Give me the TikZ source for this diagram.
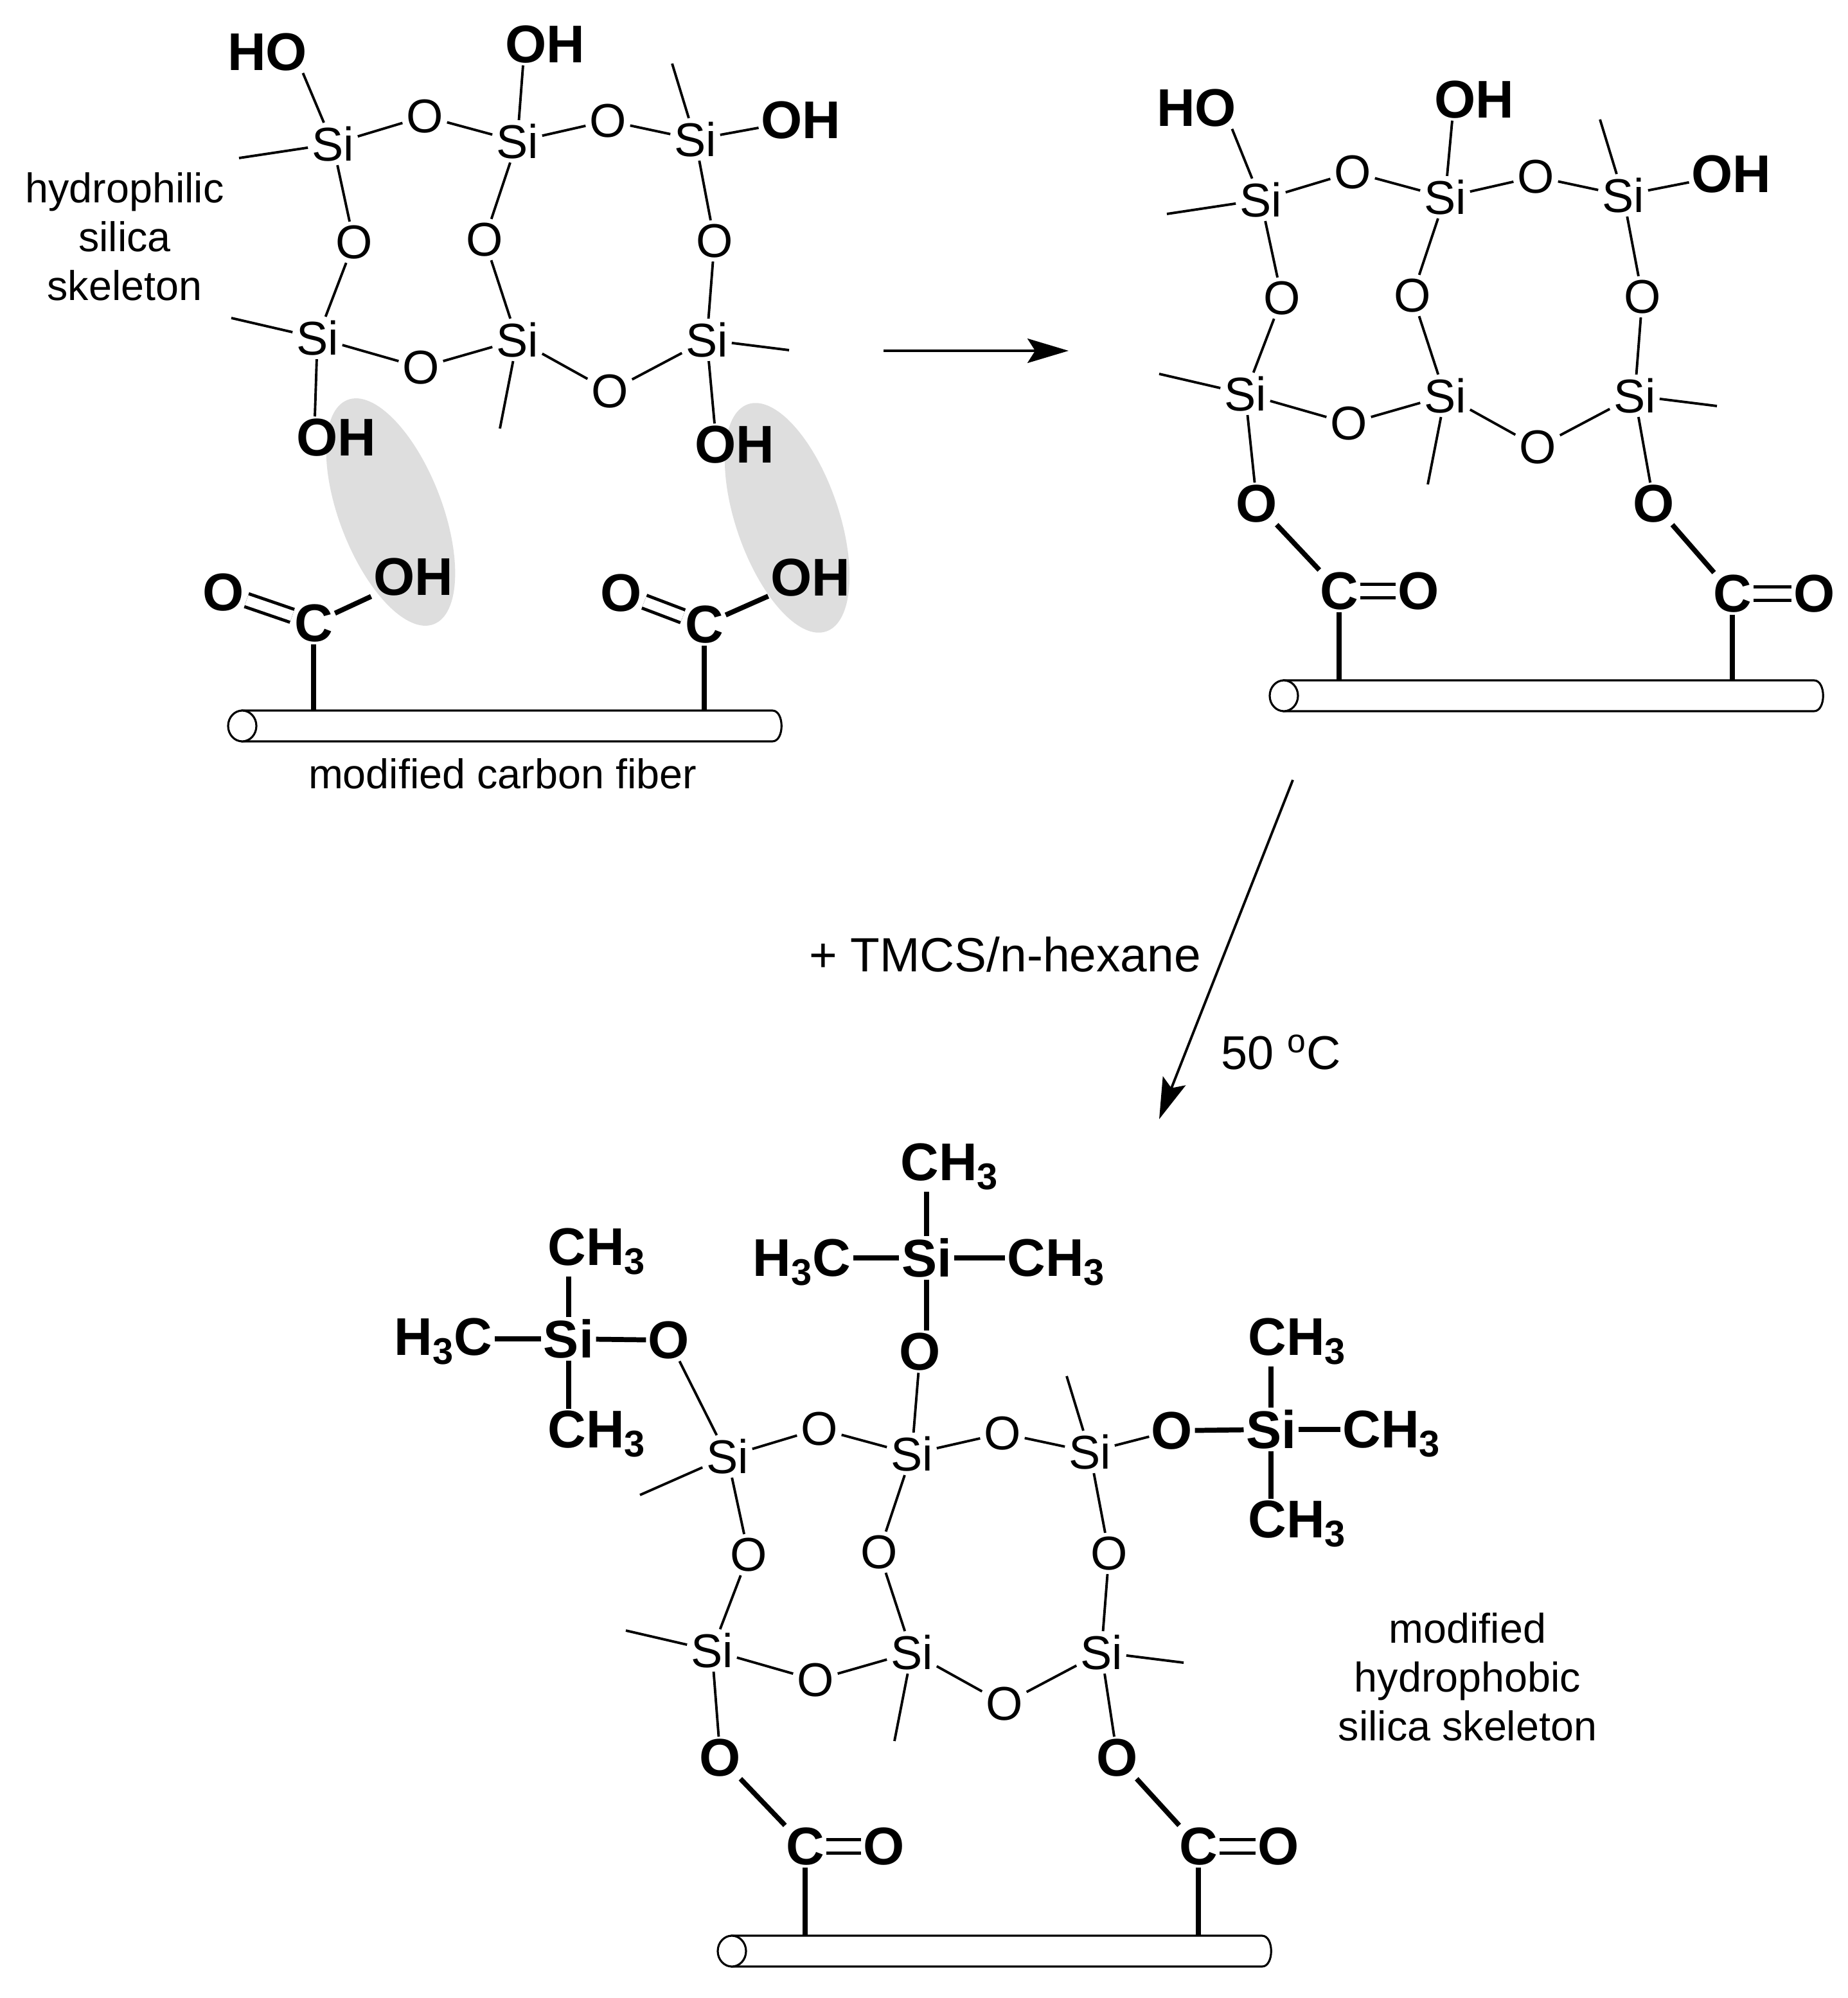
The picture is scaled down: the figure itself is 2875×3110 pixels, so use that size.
\documentclass[tikz,border=0pt]{standalone}
\usepackage{fontspec}
\setmainfont{Liberation Sans}
\usetikzlibrary{shapes.geometric, arrows.meta}

\newcommand{\chemfont}{\fontsize{21}{24}\selectfont}
\newcommand{\boldfont}{\fontsize{23.5}{26}\selectfont\bfseries}
\newcommand{\labelfont}{\fontsize{18.4}{21.6}\selectfont}

\tikzset{
    atom/.style={font=\chemfont, inner sep=1.5pt},
    batom/.style={font=\boldfont, inner sep=0.8pt},
    note/.style={font=\labelfont, align=center, inner sep=0pt},
    bond/.style={line width=1.1pt},
    bbond/.style={line width=2.2pt},
    dbond/.style={line width=1.4pt, double, double distance=4.6pt},
    reaction/.style={line width=1.1pt, -{Stealth[length=6.4mm, width=3.8mm, inset=1.2mm]}},
    patch/.style={ellipse, fill=black!13, minimum width=37.4mm, minimum height=16mm, inner sep=0pt},
    tube/.style={line width=0.9pt, fill=white},
    skeleton/.pic={
        \node[atom] (-s1) at (518,224) {Si};
        \node[atom] (-s2) at (805,220) {Si};
        \node[atom] (-s3) at (1082,217) {Si};
        \node[atom] (-s4) at (494,526) {Si};
        \node[atom] (-s5) at (805,529) {Si};
        \node[atom] (-s6) at (1100,529) {Si};
        \node[atom] (-o12) at (661,181) {O};
        \node[atom] (-o23) at (946,188) {O};
        \node[atom] (-o14) at (551,377) {O};
        \node[atom] (-o25) at (754,373) {O};
        \node[atom] (-o36) at (1112,375) {O};
        \node[atom] (-o45) at (655,572) {O};
        \node[atom] (-o56) at (949,609) {O};
        \coordinate (-e3) at (1046,99);
        \coordinate (-e4) at (360,495);
        \coordinate (-e5) at (778,667);
        \coordinate (-e6) at (1228,545);
        \draw[bond] (-s1) -- (-o12) -- (-s2) -- (-o23) -- (-s3) -- (-o36) -- (-s6) -- (-o56) -- (-s5) -- (-o45) -- (-s4) -- (-o14) -- (-s1);
        \draw[bond] (-s2) -- (-o25) -- (-s5);
        \draw[bond] (-s3) -- (-e3);
        \draw[bond] (-s4) -- (-e4);
        \draw[bond] (-s5) -- (-e5);
        \draw[bond] (-s6) -- (-e6);
    },
    fiber/.pic={
        \draw[tube] (0,-24) -- (825,-24) .. controls (844,-24) and (844,24) .. (825,24) -- (0,24) -- cycle;
        \draw[tube] (0,0) ellipse [x radius=22, y radius=24];
        \coordinate (-top) at (400,-24);
    }
}

\begin{document}
\begin{tikzpicture}[x=0.1mm, y=-0.1mm]
    \useasboundingbox (0,0) rectangle (2875,3110);

    % hydrophilic skeleton over the fiber
    \node[patch, rotate=-69] (pa) at (608,797) {};
    \node[patch, rotate=-71] (pb) at (1225,806) {};
    \pic (a) at (0,0) {skeleton};
    \pic (fa) at (377,1130) {fiber};
    \coordinate (a-e1) at (372,246);
    \node[batom] (a-ho1) at (416,81) {HO};
    \node[batom] (a-oh2) at (848,69) {OH};
    \node[batom] (a-oh3) at (1246,187) {OH};
    \node[batom] (a-oh4) at (523,681) {OH};
    \node[batom] (a-oh6) at (1143,692) {OH};
    \draw[bond] (a-s1) -- (a-e1);
    \draw[bond] (a-s1) -- ([xshift=-1mm]a-ho1.south east);
    \draw[bond] (a-s2) -- ([xshift=-3.4mm]a-oh2.south);
    \draw[bond] (a-s3) -- (a-oh3);
    \draw[bond] (a-s4) -- ([xshift=-3.3mm]a-oh4.north);
    \draw[bond] (a-s6) -- ([xshift=-3.1mm]a-oh6.north);
    \node[batom] (ca) at (488,970) {C};
    \node[batom] (cao) at (348,922) {O};
    \node[batom] (caoh) at (643,898) {OH};
    \node[batom] (cb) at (1096,972) {C};
    \node[batom] (cbo) at (967,923) {O};
    \node[batom] (cboh) at (1261,899) {OH};
    \draw[dbond] (ca) -- (cao);
    \draw[dbond] (cb) -- (cbo);
    \draw[bbond] (ca) -- (caoh);
    \draw[bbond] (cb) -- (cboh);
    \draw[bbond] (ca.south) -- (ca.south |- fa-top);
    \draw[bbond] (cb.south) -- (cb.south |- fa-top);
    \node[note] (lphil) at (194,368) {hydrophilic\\silica\\skeleton};
    \node[note] (lfib) at (782,1204) {modified carbon fiber};

    % first step
    \coordinate (r1a) at (1375,546);
    \coordinate (r1b) at (1663,546);
    \draw[reaction] (r1a) -- (r1b);

    % grafted skeleton
    \pic (b) at (1444,87) {skeleton};
    \pic (fb) at (1998,1083) {fiber};
    \coordinate (b-e1) at (1816,333);
    \node[batom] (b-ho1) at (1862,168) {HO};
    \node[batom] (b-oh2) at (2294,155) {OH};
    \node[batom] (b-oh3) at (2694,271) {OH};
    \node[batom] (b-o4) at (1956,784) {O};
    \node[batom] (b-o6) at (2574,784) {O};
    \node[batom] (cc) at (2084,920) {C};
    \node[batom] (cco) at (2208,920) {O};
    \node[batom] (cd) at (2696,924) {C};
    \node[batom] (cdo) at (2824,924) {O};
    \draw[bond] (b-s1) -- (b-e1);
    \draw[bond] (b-s1) -- ([xshift=-1mm]b-ho1.south east);
    \draw[bond] (b-s2) -- ([xshift=-3.4mm]b-oh2.south);
    \draw[bond] (b-s3) -- (b-oh3);
    \draw[bond] (b-s4) -- (b-o4);
    \draw[bond] (b-s6) -- (b-o6);
    \draw[bbond] (b-o4) -- (cc);
    \draw[bbond] (b-o6) -- (cd);
    \draw[dbond] (cc) -- (cco);
    \draw[dbond] (cd) -- (cdo);
    \draw[bbond] (cc.south) -- (cc.south |- fb-top);
    \draw[bbond] (cd.south) -- (cd.south |- fb-top);

    % second step
    \coordinate (r2a) at (2012,1214);
    \coordinate (r2b) at (1804,1742);
    \draw[reaction] (r2a) -- (r2b);
    \node[note, font=\fontsize{21.3}{24}\selectfont] (lreag) at (1564,1486) {+ TMCS/n-hexane};
    \node[note, font=\fontsize{21}{24}\selectfont] (ltemp) at (1994,1638) {50 \textsuperscript{o}C};

    % hydrophobic skeleton
    \pic (c) at (614,2043) {skeleton};
    \pic (fc) at (1139,3037) {fiber};
    \coordinate (c-e1) at (996,2327);
    \node[batom] (c-o1) at (1041,2086) {O};
    \node[batom] (c-o2) at (1432,2104) {O};
    \node[batom] (c-o3) at (1824,2227) {O};
    \node[batom] (c-o4) at (1121,2736) {O};
    \node[batom] (c-o6) at (1739,2736) {O};
    \draw[bond] (c-s1) -- (c-e1);
    \draw[bond] (c-s1) -- (c-o1);
    \draw[bond] (c-s2) -- (c-o2);
    \draw[bond] (c-s3) -- (c-o3);
    \draw[bond] (c-s4) -- (c-o4);
    \draw[bond] (c-s6) -- (c-o6);
    \node[batom] (ce) at (1253,2874) {C};
    \node[batom] (ceo) at (1376,2874) {O};
    \node[batom] (cf) at (1865,2874) {C};
    \node[batom] (cfo) at (1990,2874) {O};
    \draw[bbond] (c-o4) -- (ce);
    \draw[bbond] (c-o6) -- (cf);
    \draw[dbond] (ce) -- (ceo);
    \draw[dbond] (cf) -- (cfo);
    \draw[bbond] (ce.south) -- (ce.south |- fc-top);
    \draw[bbond] (cf.south) -- (cf.south |- fc-top);

    % trimethylsilyl groups
    \node[batom] (tl) at (885,2084) {Si};
    \node[batom] (tlw) at (690,2088) {H\textsubscript{3}C};
    \node[batom] (tln) at (929,1948) {CH\textsubscript{3}};
    \node[batom] (tls) at (929,2232) {CH\textsubscript{3}};
    \draw[bbond] (tl.west) -- (tl.west -| tlw.east);
    \draw[bbond] (tl) -- (c-o1);
    \draw[bbond] (tl.north) -- (tl.north |- tln.south);
    \draw[bbond] (tl.south) -- (tl.south |- tls.north);
    \node[batom] (tm) at (1442,1958) {Si};
    \node[batom] (tmw) at (1248,1965) {H\textsubscript{3}C};
    \node[batom] (tme) at (1644,1965) {CH\textsubscript{3}};
    \node[batom] (tmn) at (1478,1816) {CH\textsubscript{3}};
    \draw[bbond] (tm.west) -- (tm.west -| tmw.east);
    \draw[bbond] (tm.east) -- (tm.east -| tme.west);
    \draw[bbond] (tm.north) -- (tm.north |- tmn.south);
    \draw[bbond] (tm.south) -- (tm.south |- c-o2.north);
    \node[batom] (tr) at (1978,2225) {Si};
    \node[batom] (tre) at (2166,2232) {CH\textsubscript{3}};
    \node[batom] (trn) at (2019,2088) {CH\textsubscript{3}};
    \node[batom] (trs) at (2019,2372) {CH\textsubscript{3}};
    \draw[bbond] (tr) -- (c-o3);
    \draw[bbond] (tr.east) -- (tr.east -| tre.west);
    \draw[bbond] (tr.north) -- (tr.north |- trn.south);
    \draw[bbond] (tr.south) -- (tr.south |- trs.north);
    \node[note] (lphob) at (2284,2610) {modified\\hydrophobic\\silica skeleton};
\end{tikzpicture}
\end{document}
